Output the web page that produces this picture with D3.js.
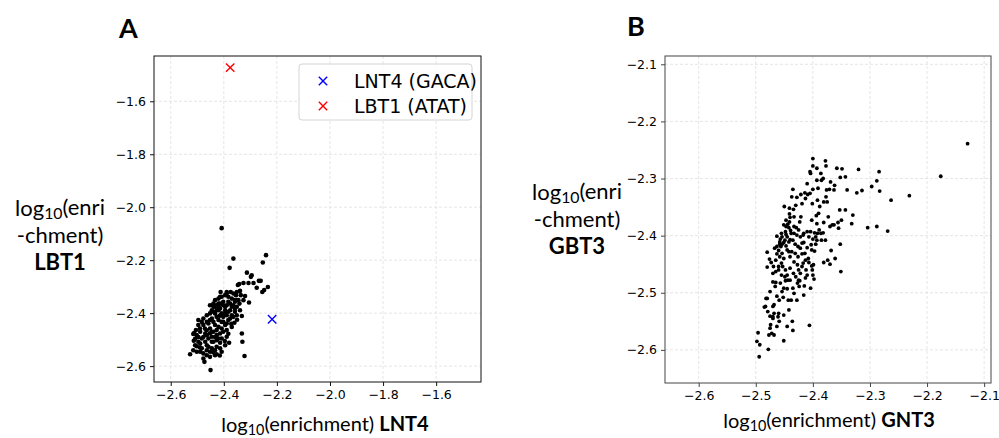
<!DOCTYPE html>
<html>
<head>
<meta charset="utf-8">
<script src="https://cdn.jsdelivr.net/npm/d3@7"></script>
<style>
  html, body { margin: 0; padding: 0; background: #fff; }
  svg { display: block; }
  .lbl { font-family: Lato, "Open Sans", sans-serif; fill: #000; }
</style>
</head>
<body>
<svg id="chart" width="999" height="438"></svg>
<script>
// Panel A: log10 enrichment, LNT4 (x) vs LBT1 (y)
const panelA_x = [
  -2.408,-2.241,-2.253,-2.364,-2.378,-2.234,-2.268,-2.261,-2.248,-2.255,-2.276,-2.288,-2.295,-2.313,-2.298,-2.307,
  -2.326,-2.342,-2.347,-2.305,-2.320,-2.339,-2.332,-2.330,-2.322,-2.450,-2.527,-2.473,-2.515,-2.513,-2.496,
  -2.412,-2.389,-2.374,-2.364,-2.354,-2.336,-2.326,-2.341,-2.358,-2.370,-2.383,-2.395,-2.408,-2.420,-2.433,-2.439,
  -2.427,-2.414,-2.402,-2.389,-2.376,-2.364,-2.351,-2.339,-2.358,-2.376,-2.395,-2.414,-2.427,-2.439,-2.452,-2.412,
  -2.389,-2.370,-2.351,-2.332,-2.351,-2.389,-2.414,-2.452,-2.439,-2.420,-2.402,-2.383,-2.351,-2.358,-2.395,-2.416,
  -2.433,-2.464,-2.477,-2.483,-2.496,-2.505,-2.512,-2.502,-2.489,-2.471,-2.458,-2.439,-2.420,-2.402,-2.383,-2.370,
  -2.389,-2.408,-2.427,-2.445,-2.464,-2.483,-2.496,-2.508,-2.515,-2.502,-2.483,-2.464,-2.445,-2.427,-2.408,-2.389,
  -2.395,-2.414,-2.433,-2.452,-2.464,-2.477,-2.452,-2.433,-2.408,-2.489,
  -2.445,-2.427,-2.433,-2.420,-2.452,-2.445,-2.427,-2.414,-2.402,-2.420,-2.439,-2.458,-2.470,-2.490,-2.477,-2.464,
  -2.452,-2.439,-2.427,-2.445,-2.458,-2.470,-2.489,-2.402,-2.395,-2.383,-2.376,-2.364,-2.389,-2.408,-2.420,-2.433,
  -2.445,-2.420,-2.408,-2.395,-2.370,-2.358,-2.345,-2.383,-2.396,-2.414,-2.433,-2.452,-2.465,-2.477,-2.496,-2.508,
  -2.502,-2.490,-2.477,-2.464,-2.440,-2.427,-2.415,-2.380,-2.372,-2.360,-2.350
];
const panelA_y = [
  -2.079,-2.181,-2.209,-2.194,-2.229,-2.301,-2.278,-2.278,-2.313,-2.320,-2.304,-2.286,-2.257,-2.247,-2.263,-2.286,
  -2.286,-2.290,-2.294,-2.360,-2.335,-2.316,-2.477,-2.508,-2.562,-2.615,-2.555,-2.584,-2.479,-2.504,-2.426,
  -2.320,-2.320,-2.320,-2.326,-2.332,-2.332,-2.351,-2.364,-2.351,-2.345,-2.338,-2.332,-2.338,-2.345,-2.351,-2.364,
  -2.370,-2.364,-2.357,-2.370,-2.364,-2.370,-2.376,-2.389,-2.395,-2.389,-2.389,-2.382,-2.389,-2.395,-2.401,-2.408,
  -2.408,-2.408,-2.408,-2.411,-2.320,-2.326,-2.338,-2.370,-2.376,-2.364,-2.370,-2.357,-2.351,-2.382,-2.401,-2.410,
  -2.401,-2.408,-2.420,-2.433,-2.445,-2.464,-2.475,-2.483,-2.470,-2.458,-2.439,-2.433,-2.426,-2.433,-2.426,-2.452,
  -2.464,-2.458,-2.464,-2.470,-2.483,-2.496,-2.508,-2.521,-2.540,-2.546,-2.533,-2.521,-2.508,-2.502,-2.496,-2.489,
  -2.521,-2.533,-2.540,-2.546,-2.559,-2.571,-2.565,-2.559,-2.546,-2.546,
  -2.420,-2.414,-2.445,-2.452,-2.458,-2.489,-2.483,-2.477,-2.470,-2.496,-2.508,-2.496,-2.477,-2.458,-2.445,-2.433,
  -2.426,-2.470,-2.527,-2.533,-2.527,-2.508,-2.515,-2.414,-2.445,-2.395,-2.420,-2.414,-2.439,-2.433,-2.389,-2.376,
  -2.389,-2.376,-2.401,-2.376,-2.376,-2.357,-2.351,-2.478,-2.505,-2.512,-2.490,-2.476,-2.465,-2.490,-2.490,-2.497,
  -2.525,-2.530,-2.552,-2.540,-2.548,-2.555,-2.560,-2.512,-2.440,-2.436,-2.425
];
// Highlighted motifs in panel A
const markerNames = ["LNT4 (GACA)", "LBT1 (ATAT)"];
const markerX = [-2.218, -2.376];
const markerY = [-2.423, -1.473];
const markerColors = ["#0000ff", "#ff0000"];

// Panel B: log10 enrichment, GNT3 (x) vs GBT3 (y)
const panelB_x = [
  -2.129,-2.176,-2.231,-2.263,-2.269,-2.288,-2.304,-2.284,-2.288,-2.283,-2.297,-2.320,-2.314,-2.323,-2.330,-2.332,
  -2.340,-2.343,-2.349,-2.358,-2.352,-2.363,-2.362,-2.369,-2.366,-2.356,-2.350,-2.353,-2.343,-2.355,-2.378,-2.377,
  -2.393,-2.386,-2.400,-2.400,-2.404,-2.382,-2.393,-2.385,-2.391,-2.400,-2.376,-2.377,-2.375,-2.381,-2.371,-2.373,
  -2.388,-2.401,-2.392,-2.405,-2.390,-2.394,-2.402,-2.393,-2.389,-2.386,-2.392,-2.395,-2.382,-2.378,-2.385,-2.381,
  -2.370,-2.363,-2.381,-2.374,-2.370,-2.361,-2.368,-2.352,-2.351,-2.399,-2.401,-2.400,-2.398,-2.404,-2.406,-2.415,
  -2.413,-2.412,-2.417,-2.408,-2.402,-2.397,-2.403,-2.400,-2.397,-2.410,-2.416,-2.422,-2.417,-2.428,-2.425,-2.433,
  -2.438,-2.439,-2.433,-2.429,-2.423,-2.421,-2.433,-2.440,-2.441,-2.444,-2.451,-2.447,-2.442,-2.455,-2.448,-2.447,
  -2.449,-2.451,-2.442,-2.440,-2.435,-2.431,-2.426,-2.422,-2.414,-2.419,-2.426,-2.431,-2.437,-2.442,-2.447,-2.454,
  -2.458,-2.457,-2.463,-2.445,-2.440,-2.433,-2.427,-2.425,-2.427,-2.433,-2.438,-2.442,-2.451,-2.452,-2.454,-2.451,
  -2.445,-2.448,-2.445,-2.448,-2.440,-2.434,-2.444,-2.449,-2.455,-2.460,-2.455,-2.451,-2.458,-2.463,-2.460,-2.463,
  -2.458,-2.467,-2.465,-2.460,-2.465,-2.465,-2.466,-2.463,-2.459,-2.470,-2.470,-2.469,-2.473,-2.476,-2.480,-2.480,
  -2.485,-2.470,-2.468,-2.468,-2.470,-2.475,-2.461,-2.451,-2.472,-2.474,-2.477,-2.468,-2.475,-2.479,-2.480,-2.496,
  -2.498,-2.493,-2.494,-2.478,-2.445,-2.435,-2.436,-2.423,-2.416,-2.424,-2.435,-2.430,-2.425,-2.422,-2.410,-2.402,
  -2.407,-2.413,-2.460,-2.459,-2.463,-2.470,-2.483,-2.482,-2.437,-2.428,-2.421,-2.414,-2.409,-2.413,-2.419,-2.430,
  -2.434,-2.441,-2.450,-2.435,-2.441,-2.447,-2.405,-2.410,-2.454,-2.445,-2.456,-2.416,-2.410,-2.404,-2.407,-2.419,
  -2.393,-2.395,-2.454,-2.453,-2.440,-2.419,-2.428,-2.475,-2.457,-2.443
];
const panelB_y = [
  -2.239,-2.296,-2.330,-2.338,-2.392,-2.384,-2.386,-2.288,-2.304,-2.322,-2.314,-2.284,-2.321,-2.325,-2.364,-2.379,
  -2.320,-2.297,-2.283,-2.282,-2.298,-2.320,-2.312,-2.306,-2.381,-2.377,-2.373,-2.355,-2.355,-2.387,-2.269,-2.278,
  -2.282,-2.291,-2.265,-2.278,-2.291,-2.300,-2.303,-2.303,-2.317,-2.319,-2.320,-2.332,-2.341,-2.341,-2.319,-2.367,
  -2.349,-2.344,-2.338,-2.326,-2.361,-2.365,-2.373,-2.379,-2.390,-2.396,-2.396,-2.402,-2.395,-2.408,-2.408,-2.377,
  -2.384,-2.381,-2.447,-2.443,-2.450,-2.440,-2.426,-2.415,-2.463,-2.451,-2.460,-2.469,-2.476,-2.492,-2.557,-2.488,
  -2.474,-2.460,-2.448,-2.440,-2.425,-2.427,-2.416,-2.406,-2.395,-2.421,-2.412,-2.402,-2.399,-2.399,-2.390,-2.396,
  -2.396,-2.391,-2.384,-2.386,-2.376,-2.367,-2.367,-2.368,-2.376,-2.380,-2.381,-2.384,-2.386,-2.396,-2.393,-2.398,
  -2.408,-2.412,-2.411,-2.407,-2.408,-2.415,-2.419,-2.422,-2.431,-2.432,-2.437,-2.431,-2.428,-2.428,-2.418,-2.415,
  -2.411,-2.406,-2.401,-2.425,-2.437,-2.446,-2.451,-2.460,-2.483,-2.501,-2.513,-2.530,-2.539,-2.508,-2.498,-2.492,
  -2.493,-2.479,-2.469,-2.460,-2.457,-2.466,-2.478,-2.472,-2.469,-2.460,-2.448,-2.440,-2.437,-2.432,-2.426,-2.419,
  -2.415,-2.422,-2.443,-2.454,-2.463,-2.482,-2.489,-2.506,-2.513,-2.481,-2.466,-2.454,-2.447,-2.441,-2.455,-2.510,
  -2.525,-2.524,-2.521,-2.536,-2.542,-2.541,-2.542,-2.584,-2.571,-2.556,-2.574,-2.574,-2.562,-2.533,-2.429,-2.570,
  -2.585,-2.591,-2.612,-2.599,-2.559,-2.566,-2.550,-2.479,-2.504,-2.489,-2.492,-2.472,-2.478,-2.466,-2.469,-2.453,
  -2.447,-2.443,-2.536,-2.550,-2.559,-2.545,-2.524,-2.510,-2.332,-2.333,-2.328,-2.325,-2.328,-2.335,-2.344,-2.347,
  -2.354,-2.352,-2.349,-2.319,-2.362,-2.373,-2.288,-2.309,-2.402,-2.402,-2.419,-2.396,-2.393,-2.393,-2.402,-2.413,
  -2.408,-2.415,-2.431,-2.454,-2.478,-2.454,-2.513,-2.498,-2.483,-2.513
];

const xTicksA = [-2.6, -2.4, -2.2, -2.0, -1.8, -1.6];
const yTicksA = [-2.6, -2.4, -2.2, -2.0, -1.8, -1.6];
const xTicksB = [-2.6, -2.5, -2.4, -2.3, -2.2, -2.1];
const yTicksB = [-2.6, -2.5, -2.4, -2.3, -2.2, -2.1];

const svg = d3.select("#chart");
const fmt = d => d3.format(".1f")(d).replace("-", "\u2212");

function panel(cfg) {
  const { left, right, top, bottom, xDomain, yDomain, xs, ys, xTicks, yTicks, r, spine } = cfg;
  const x = d3.scaleLinear().domain(xDomain).range([left, right]);
  const y = d3.scaleLinear().domain(yDomain).range([bottom, top]);
  const g = svg.append("g");

  // dashed grid
  g.append("g").selectAll("line").data(xTicks).join("line")
    .attr("x1", d => x(d)).attr("x2", d => x(d)).attr("y1", top).attr("y2", bottom)
    .attr("stroke", "#dedede").attr("stroke-width", 0.8).attr("stroke-dasharray", "3,2");
  g.append("g").selectAll("line").data(yTicks).join("line")
    .attr("y1", d => y(d)).attr("y2", d => y(d)).attr("x1", left).attr("x2", right)
    .attr("stroke", "#dedede").attr("stroke-width", 0.8).attr("stroke-dasharray", "3,2");

  // points
  g.append("g").selectAll("circle").data(d3.range(xs.length)).join("circle")
    .attr("cx", i => x(xs[i])).attr("cy", i => y(ys[i])).attr("r", r).attr("fill", "#000");

  // axes
  const ax = g.append("g").attr("transform", `translate(0,${bottom})`)
    .call(d3.axisBottom(x).tickValues(xTicks).tickFormat(fmt).tickSize(4).tickPadding(4));
  const ay = g.append("g").attr("transform", `translate(${left},0)`)
    .call(d3.axisLeft(y).tickValues(yTicks).tickFormat(fmt).tickSize(4).tickPadding(4));
  [ax, ay].forEach(a => {
    a.attr("font-size", null).attr("font-family", null);
    a.select(".domain").remove();
    a.selectAll(".tick line").attr("stroke", spine);
    a.selectAll(".tick text")
      .style("font-family", '"DejaVu Sans", sans-serif')
      .style("font-size", "12.5px").style("fill", "#000");
  });

  g.append("rect").attr("x", left).attr("y", top).attr("width", right - left).attr("height", bottom - top)
    .attr("fill", "none").attr("stroke", spine).attr("stroke-width", 1);
  return { x, y, g };
}

const A = panel({
  left: 154, right: 481, top: 56, bottom: 382,
  xDomain: [-2.663, -1.431], yDomain: [-2.660, -1.429],
  xs: panelA_x, ys: panelA_y, xTicks: xTicksA, yTicks: yTicksA, r: 2.3, spine: "#111"
});

// highlighted crosses
function cross(sel, cx, cy, s, color, w) {
  sel.append("path")
    .attr("d", `M${cx - s},${cy - s}L${cx + s},${cy + s}M${cx - s},${cy + s}L${cx + s},${cy - s}`)
    .attr("stroke", color).attr("stroke-width", w).attr("fill", "none");
}
markerX.forEach((mx, i) => cross(A.g, A.x(mx), A.y(markerY[i]), 4.2, markerColors[i], 1.4));

// legend
const leg = A.g.append("g");
leg.append("rect").attr("x", 299).attr("y", 64).attr("width", 173).attr("height", 56).attr("rx", 3)
  .attr("fill", "#fff").attr("fill-opacity", 0.85).attr("stroke", "#d4d4d4");
markerNames.forEach((name, i) => {
  const yy = 81 + i * 25;
  cross(leg, 323, yy, 4.2, markerColors[i], 1.4);
  leg.append("text").attr("x", 354).attr("y", yy).attr("dy", "0.36em")
    .style("font-family", '"DejaVu Sans", sans-serif').style("font-size", "19px").text(name);
});

const B = panel({
  left: 665, right: 991, top: 56, bottom: 383,
  xDomain: [-2.659, -2.088], yDomain: [-2.658, -2.0855],
  xs: panelB_x, ys: panelB_y, xTicks: xTicksB, yTicks: yTicksB, r: 1.9, spine: "#444"
});

// panel letters
svg.append("text").attr("class", "lbl").attr("x", 119).attr("y", 38)
  .style("font-size", "27px").style("font-weight", 700).text("A");
svg.append("text").attr("class", "lbl").attr("x", 627).attr("y", 36)
  .style("font-size", "27px").style("font-weight", 700).text("B");

// axis titles with subscript
function logLabel(sel, extra) {
  sel.append("tspan").text("log");
  sel.append("tspan").attr("dy", "0.22em").style("font-size", "0.72em").text("10");
  sel.append("tspan").attr("dy", "-0.22em").text(extra);
}
const xa = svg.append("text").attr("class", "lbl").attr("x", 325).attr("y", 432)
  .attr("text-anchor", "middle").style("font-size", "20px");
logLabel(xa, "(enrichment) ");
xa.append("tspan").style("font-weight", 700).text("LNT4");

const xb = svg.append("text").attr("class", "lbl").attr("x", 829).attr("y", 428)
  .attr("text-anchor", "middle").style("font-size", "20px");
logLabel(xb, "(enrichment) ");
xb.append("tspan").style("font-weight", 700).text("GNT3");

function yLabel(cx, y0, gene) {
  const t1 = svg.append("text").attr("class", "lbl").attr("x", cx).attr("y", y0)
    .attr("text-anchor", "middle").style("font-size", "22px");
  logLabel(t1, "(enri");
  svg.append("text").attr("class", "lbl").attr("x", cx).attr("y", y0 + 27)
    .attr("text-anchor", "middle").style("font-size", "22px").text("-chment)");
  svg.append("text").attr("class", "lbl").attr("x", cx).attr("y", y0 + 54)
    .attr("text-anchor", "middle").style("font-size", "22px").style("font-weight", 700).text(gene);
}
yLabel(60, 216, "LBT1");
yLabel(577, 200, "GBT3");
</script>
</body>
</html>
